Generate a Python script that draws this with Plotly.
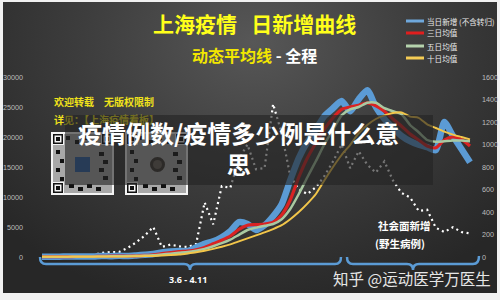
import base64
import re
import plotly.graph_objects as go

# ---------------- data ----------------
dates = [f"3.{d}" for d in range(6, 32)] + [f"4.{d}" for d in range(1, 26)]

daily_new = [50, 60, 60, 80, 80, 80, 70, 170, 140, 200,
             160, 260, 370, 500, 760, 900, 1000, 1000, 1600, 2200,
             2600, 3300, 4300, 5800, 5500, 4500, 5300, 6800, 8800, 12800,
             16500, 19200, 21300, 23500, 24800, 26000, 24300, 26300, 27800, 25000,
             23000, 21500, 20200, 19300, 18700, 18300, 17800, 22500, 20200, 18000, 15800]

avg3 = [50, 50, 60, 70, 80, 80, 80, 100, 130, 170,
        170, 210, 260, 380, 550, 720, 890, 990, 1200, 1600,
        2200, 2800, 3500, 4600, 5300, 5400, 5500, 5800, 7000, 9500,
        13300, 16500, 19000, 21300, 23200, 24600, 25000, 25300, 25700, 25200,
        24300, 23000, 21800, 20500, 19500, 18500, 18200, 19500, 20000, 19600, 18500]

avg5 = [40, 50, 50, 60, 70, 70, 80, 90, 110, 130,
        150, 190, 230, 300, 420, 560, 700, 830, 1050, 1350,
        1800, 2300, 2900, 3700, 4500, 4900, 5200, 5500, 6300, 8000,
        10500, 13300, 16000, 18800, 21200, 23600, 24600, 25000, 25700, 25700,
        24800, 24300, 23800, 22000, 20800, 19500, 19200, 19300, 19400, 19400, 19300]

avg10 = [30, 40, 40, 50, 50, 60, 60, 70, 80, 90,
         100, 120, 150, 180, 240, 320, 420, 600, 800, 1050,
         1350, 1700, 2100, 2600, 3100, 3600, 4100, 4650, 5300, 6300,
         7500, 8900, 10500, 12800, 15000, 17000, 18700, 20600, 22000, 23000,
         23600, 24000, 24100, 23400, 23200, 22100, 21500, 20900, 20400, 20000, 19600]

social_new = [0, 5, 10, 10, 15, 18, 18, 36, 44, 44,
              80, 130, 190, 267, 90, 110, 95, 89, 115, 485,
              290, 630, 615, 870, 1000, 780, 790, 1360, 1100, 720,
              600, 560, 620, 720, 850, 1000, 790, 940, 820, 750,
              850, 680, 570, 530, 410, 420, 260, 222, 265, 222, 210]

left_ticks = [0, 5000, 10000, 15000, 20000, 25000, 30000]
right_ticks = [0, 200, 400, 600, 800, 1000, 1200, 1400, 1600]
legend_names = ["当日新增 (不含转归)", "三日均值", "五日均值", "十日均值"]

# ---------------- layout helpers ----------------
W, H = 500, 300
L, R = 27, 22
PW = W - L - R
CJK = "Noto Sans CJK SC"
BLUE, RED, GREEN, YELLOW = "#5b9bd5", "#d92323", "#a9c9a2", "#f2c64a"


def px(x):
    return (x - L) / PW


def py(y):
    return 1 - y / H


def ppath(s):
    def rep(m):
        return f"{px(float(m.group(1))):.5f},{py(float(m.group(2))):.5f}"
    return re.sub(r"(-?\d+\.?\d*),(-?\d+\.?\d*)", rep, s)


def note(text, x, y, size, color, bold=False, xanchor="center", family=CJK):
    return dict(text=f"<b>{text}</b>" if bold else text, x=px(x), y=py(y),
                xref="paper", yref="paper", xanchor=xanchor, yanchor="middle",
                showarrow=False, font=dict(family=family, size=size, color=color))


def rect(x0, y0, x1, y1, color, kind="rect"):
    return dict(type=kind, xref="paper", yref="paper", x0=px(x0), x1=px(x1),
                y0=py(y0), y1=py(y1), fillcolor=color, line=dict(width=0), layer="above")


# ---------------- figure ----------------
fig = go.Figure()
fig.add_trace(go.Scatter(x=dates, y=social_new, yaxis="y", mode="lines",
                         line=dict(color="white", width=2.2, dash="2px,3.5px"),
                         showlegend=False, hoverinfo="skip"))
for vals, col, w, name in [(daily_new, BLUE, 6.5, legend_names[0]),
                           (avg3, RED, 3.2, legend_names[1]),
                           (avg5, GREEN, 2.5, legend_names[2]),
                           (avg10, YELLOW, 2, legend_names[3])]:
    fig.add_trace(go.Scatter(x=dates, y=vals, yaxis="y2", mode="lines", name=name,
                             line=dict(color=col, width=w, shape="spline", smoothing=0.6),
                             showlegend=False))

# dark gradient panel
svg = ("<svg xmlns='http://www.w3.org/2000/svg' width='494' height='291' viewBox='0 0 494 291'>"
       "<defs><radialGradient id='g' gradientUnits='userSpaceOnUse' cx='250' cy='40' r='340' "
       "gradientTransform='translate(250 40) scale(1 0.8) translate(-250 -40)'>"
       "<stop offset='0' stop-color='#575757'/><stop offset='0.5' stop-color='#3d3d3d'/>"
       "<stop offset='1' stop-color='#272727'/></radialGradient></defs>"
       "<rect width='494' height='291' fill='url(#g)'/></svg>")
src = "data:image/svg+xml;base64," + base64.b64encode(svg.encode()).decode()
images = [dict(source=src, xref="paper", yref="paper", x=px(3), y=py(2),
               sizex=(497 - 3) / PW, sizey=(293 - 2) / H, xanchor="left", yanchor="top",
               sizing="stretch", layer="below")]

shapes = []
# legend samples
for yy, col in zip([21, 33, 46, 58], ["#6fa8dc", "#e01e1e", "#b5d3ad", "#f5cc55"]):
    shapes.append(dict(type="line", xref="paper", yref="paper", x0=px(406), x1=px(424),
                       y0=py(yy), y1=py(yy), line=dict(color=col, width=3)))
# brackets
for p in ["M40,257 Q40,264 46,264 L184,264 Q190,264 190,270 Q190,264 196,264 L335,264 Q341,264 341,257",
          "M347,257 Q347,264 353,264 L407,264 Q413,264 413,270 Q413,264 419,264 L473,264 Q479,264 479,256"]:
    shapes.append(dict(type="path", xref="paper", yref="paper", path=ppath(p),
                       line=dict(color=BLUE, width=2.5), layer="above"))
# QR code placeholders
for qx in [51, 125]:
    shapes.append(rect(qx, 132, qx + 63, 195, "#f4f4f4"))
    shapes.append(rect(qx + 2, 134, qx + 61, 193, "#a8a8a8"))
    for k in range(4):
        shapes.append(rect(qx + 15 + 9 * k, 136 + 4 * (k % 2), qx + 19 + 9 * k, 140 + 4 * (k % 2), "#111111"))
        shapes.append(rect(qx + 5 + 4 * (k % 2), 150 + 9 * k, qx + 9 + 4 * (k % 2), 154 + 9 * k, "#111111"))
        shapes.append(rect(qx + 48 + 4 * (k % 2), 152 + 8 * k, qx + 53 + 4 * (k % 2), 156 + 8 * k, "#111111"))
        shapes.append(rect(qx + 18 + 9 * k, 184 + 3 * (k % 2), qx + 23 + 9 * k, 188 + 3 * (k % 2), "#111111"))
    for fx, fy in [(qx + 1, 133), (qx + 50, 133), (qx + 1, 182)]:
        shapes.append(rect(fx, fy, fx + 12, fy + 12, "#f4f4f4"))
        shapes.append(rect(fx + 1, fy + 1, fx + 11, fy + 11, "#111111"))
        shapes.append(rect(fx + 2.5, fy + 2.5, fx + 9.5, fy + 9.5, "#f4f4f4"))
        shapes.append(rect(fx + 4, fy + 4, fx + 8, fy + 8, "#111111"))
shapes.append(rect(75, 157, 90, 172, "#2d62a8"))
shapes.append(rect(150, 157, 165, 172, "#3b3530", kind="circle"))
shapes.append(rect(153, 160, 162, 169, "#6a625a", kind="circle"))

annotations = [
    note("上海疫情\u00a0\u00a0\u00a0日新增曲线", 255, 23, 21, "#ffff1a", bold=True),
    note("<span style='color:#f2e600'>动态平均线</span><span style='color:#ffffff'> - 全程</span>",
         255, 55, 16, "#f2e600", bold=True),
    note("欢迎转载\u3000无版权限制", 52, 101, 10, "#f0e21a", bold=True, xanchor="left"),
    note("详见：【上海疫情看板】", 52, 119, 10, "#f0e21a", bold=True, xanchor="left"),
    note("社会面新增", 404, 225, 10.5, "#ffffff", bold=True),
    note("(野生病例)", 400, 243, 10.5, "#ffffff", bold=True),
    note("3.6 - 4.11", 188, 279, 9, "#ffffff", bold=True, family="Noto Sans"),
]
for yy, name in zip([21, 33, 46, 58], legend_names):
    annotations.append(note(name, 425, yy, 7.6, "#e8e8e8", xanchor="left"))
# translucent overlay box and headline
annotations.append(dict(text=" ", x=px(249), y=py(150), xref="paper", yref="paper",
                        width=368, height=70, bgcolor="rgba(36,36,36,0.62)", borderpad=0,
                        borderwidth=0, showarrow=False, xanchor="center", yanchor="middle",
                        font=dict(size=10)))
headline = note("疫情例数/疫情多少例是什么意<br>思", 238, 148, 24, "#ffffff", bold=True)
headline["align"] = "center"
annotations.append(headline)
annotations.append(note("知乎 @运动医学万医生", 412, 278, 15.5, "#e6e6e6"))

x0 = (L - 42) / 8.56
x1 = (W - R - 42) / 8.56
tickfont = dict(family="Liberation Sans", size=7.2, color="#bdbdbd")
fig.update_layout(
    width=W, height=H, autosize=False,
    margin=dict(l=L, r=R, t=0, b=0, pad=0),
    paper_bgcolor="#f1f1f1", plot_bgcolor="rgba(0,0,0,0)",
    xaxis=dict(type="category", range=[x0, x1], visible=False),
    yaxis=dict(side="right", range=[(257 - 300) * 1600 / 180, 257 * 1600 / 180],
               tickvals=right_ticks, tickformat="d", ticks="", showgrid=False,
               zeroline=False, showline=False, tickfont=tickfont, ticklabelstandoff=3),
    yaxis2=dict(side="left", overlaying="y", range=[(257 - 300) * 1000 / 6, 257 * 1000 / 6],
                tickvals=left_ticks, tickformat="d", ticks="", showgrid=False,
                zeroline=False, showline=False, tickfont=tickfont, ticklabelstandoff=3),
    images=images, shapes=shapes, annotations=annotations, showlegend=False,
)
fig.write_html("out.html")
